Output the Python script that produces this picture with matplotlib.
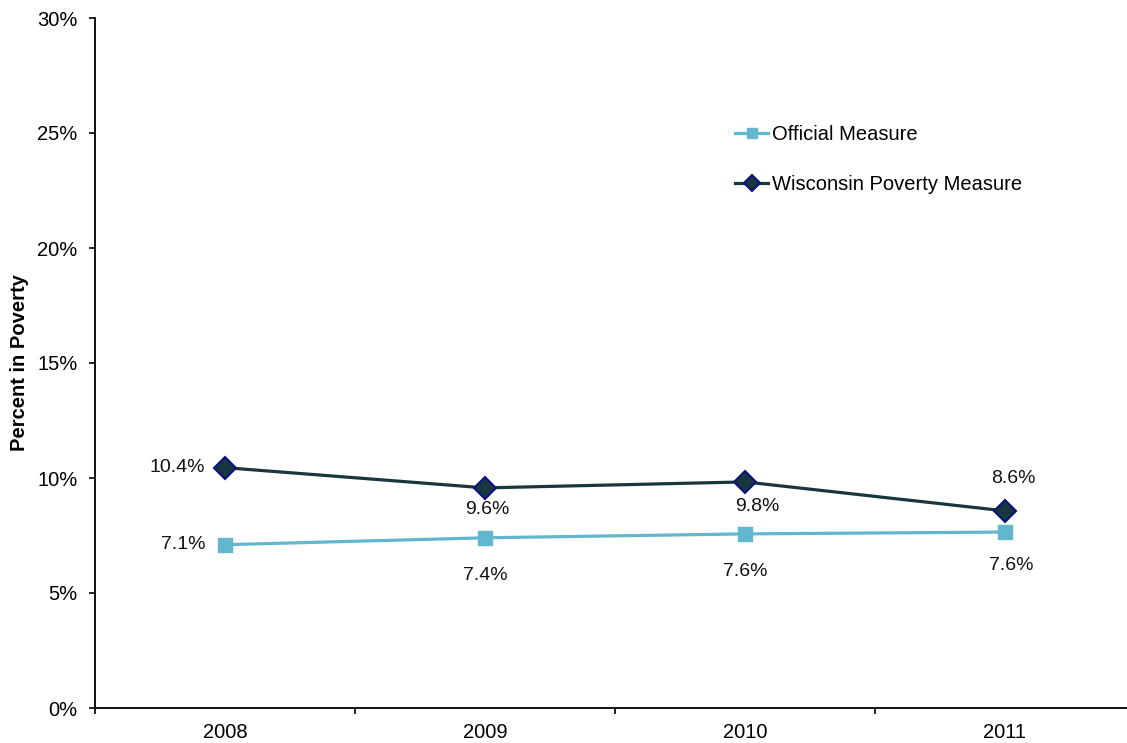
import matplotlib
matplotlib.use("Agg")
import matplotlib.pyplot as plt
from matplotlib.ticker import FixedLocator, PercentFormatter

plt.rcParams["font.family"] = ["Liberation Sans", "DejaVu Sans"]

YEARS = ["2008", "2009", "2010", "2011"]
OFFICIAL = [7.1, 7.4, 7.57, 7.65]
WPM = [10.45, 9.57, 9.83, 8.57]
OFFICIAL_LABELS = ["7.1%", "7.4%", "7.6%", "7.6%"]
WPM_LABELS = ["10.4%", "9.6%", "9.8%", "8.6%"]

OFFICIAL_COLOR = "#62B6CD"
WPM_COLOR = "#17363F"
WPM_EDGE = "#0A1478"

# label offsets in pixels, with alignment
OFFICIAL_OFFSETS = [(-20, 0, "right"), (0, -38, "center"), (0, -38, "center"), (6, -33, "center")]
WPM_OFFSETS = [(-20, 0, "right"), (2, -22, "center"), (12, -25, "center"), (8, 32, "center")]

fig = plt.figure(figsize=(11.27, 7.43), dpi=100)
ax = fig.add_axes([95 / 1127, 1 - 708 / 743, 1040 / 1127, 690 / 743])

x = list(range(len(YEARS)))
ax.plot(x, OFFICIAL, color=OFFICIAL_COLOR, lw=2.3, marker="s", markersize=10,
        markerfacecolor=OFFICIAL_COLOR, markeredgecolor=OFFICIAL_COLOR, label="Official Measure", zorder=3)
ax.plot(x, WPM, color=WPM_COLOR, lw=2.3, marker="D", markersize=11,
        markerfacecolor=WPM_COLOR, markeredgecolor=WPM_EDGE, markeredgewidth=1.5,
        label="Wisconsin Poverty Measure", zorder=4)

for xi, val, txt, (dx, dy, ha) in zip(x, OFFICIAL, OFFICIAL_LABELS, OFFICIAL_OFFSETS):
    ax.annotate(txt, (xi, val), xytext=(dx, dy), textcoords="offset pixels",
                ha=ha, va="center", fontsize=14, color="#111111")
for xi, val, txt, (dx, dy, ha) in zip(x, WPM, WPM_LABELS, WPM_OFFSETS):
    ax.annotate(txt, (xi, val), xytext=(dx, dy), textcoords="offset pixels",
                ha=ha, va="center", fontsize=14, color="#111111")

ax.set_xlim(-0.5, len(YEARS) - 0.5)
ax.set_ylim(0, 30)
ax.set_yticks([0, 5, 10, 15, 20, 25, 30])
ax.yaxis.set_major_formatter(PercentFormatter(decimals=0))
ax.set_xticks(x)
ax.set_xticklabels(YEARS)
ax.xaxis.set_minor_locator(FixedLocator([i - 0.5 for i in range(len(YEARS) + 1)]))
ax.tick_params(axis="x", which="major", length=0, pad=11, labelsize=14.5)
ax.tick_params(axis="x", which="minor", length=4.5, width=1.2, direction="out")
ax.tick_params(axis="y", length=4.5, width=1.2, direction="out", pad=8, labelsize=14.5)

for side in ["top", "right"]:
    ax.spines[side].set_visible(False)
for side in ["left", "bottom"]:
    ax.spines[side].set_linewidth(1.4)
    ax.spines[side].set_color("#111111")

ax.set_ylabel("Percent in Poverty", fontsize=14.5, fontweight="bold")
ax.yaxis.set_label_coords(-66 / 1040, 0.5)

fig.legend(loc="center left", bbox_to_anchor=(735 / 1127, 1 - 159.5 / 743),
           frameon=False, fontsize=14.5, borderpad=0, borderaxespad=0, markerscale=0.75,
           handlelength=1.65, handletextpad=0.2, labelspacing=1.55)

fig.savefig("out.png", dpi=100)
